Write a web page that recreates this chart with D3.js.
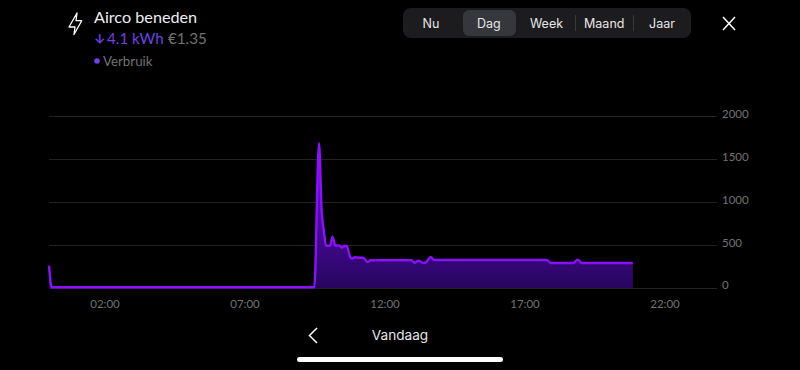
<!DOCTYPE html>
<html><head><meta charset="utf-8">
<script src="https://cdn.jsdelivr.net/npm/d3@7"></script>
<style>
html,body{margin:0;padding:0;background:#000;overflow:hidden}
svg{display:block}
text{font-family:Lato,sans-serif}
.seg{font-family:Inter,Roboto,sans-serif}
</style></head><body>
<svg id="c" width="800" height="370"></svg>
<script>
const hours = [0,0.096,9.475,9.643,9.739,9.82,9.893,10.036,10.13,10.225,10.37,10.464,10.536,10.63,10.75,10.82,10.93,11.11,11.225,11.38,11.49,12.95,13.05,13.2,13.37,13.49,13.63,13.75,17.775,17.93,18.725,18.88,19.025,20.85];
const watts = [260,8,8,1683,887,655,492,492,593,492,495,469,492,488,364,341,357,352,352,302,322,322,294,317,291,306,360,326,326,291,291,329,291,291];
const yTicks = [0,500,1000,1500,2000];
const xTicks = [2,7,12,17,22];
const xTickLabels = ["02:00","07:00","12:00","17:00","22:00"];
const tabs = ["Nu","Dag","Week","Maand","Jaar"];

const svg = d3.select("#c");
const x = d3.scaleLinear().domain([0,24]).range([49,721]);
const y = d3.scaleLinear().domain([0,2000]).range([288,116]);

const defs = svg.append("defs");
const g = defs.append("linearGradient").attr("id","fill").attr("gradientUnits","userSpaceOnUse")
  .attr("x1",0).attr("x2",0).attr("y1",y(1700)).attr("y2",y(0));
g.append("stop").attr("offset",0).attr("stop-color","#7a12e6");
g.append("stop").attr("offset",0.55).attr("stop-color","#4a0a9c");
g.append("stop").attr("offset",1).attr("stop-color","#27055e");

// gridlines
svg.append("g").selectAll("line").data(yTicks).join("line")
  .attr("x1",49).attr("x2",717)
  .attr("y1",d=>y(d)+.5).attr("y2",d=>y(d)+.5)
  .attr("stroke","#222222").attr("stroke-width",1);

// y labels
svg.append("g").selectAll("text").data(yTicks).join("text")
  .attr("x",722).attr("y",d=>y(d)+ (d===0?1:2))
  .attr("fill","#727272").attr("font-size",11.5).text(d=>d);

// x labels
svg.append("g").selectAll("text").data(xTicks).join("text")
  .attr("x",d=>x(d)).attr("y",308).attr("text-anchor","middle")
  .attr("fill","#727272").attr("font-size",11.5).text((d,i)=>xTickLabels[i]);

const pts = hours.map((h,i)=>[h,watts[i]]);
const area = d3.area().x(d=>x(d[0])).y0(y(0)).y1(d=>y(d[1])).curve(d3.curveMonotoneX);
const line = d3.line().x(d=>x(d[0])).y(d=>y(d[1])).curve(d3.curveMonotoneX);
svg.append("path").datum(pts).attr("d",area).attr("fill","url(#fill)");
svg.append("path").datum(pts).attr("d",line).attr("fill","none")
  .attr("stroke","#8a10ff").attr("stroke-width",2.4).attr("stroke-linejoin","round");

// header
svg.append("path").attr("d","M77 13 L69 27 L75 27 L74 34.5 L81.7 20.7 L76 20.7 Z")
  .attr("fill","none").attr("stroke","#fff").attr("stroke-width",1.3).attr("stroke-linejoin","round");
svg.append("text").attr("x",94).attr("y",23).attr("fill","#eeeeee").attr("font-size",16.2).text("Airco beneden");
svg.append("text").attr("class","seg").attr("x",94).attr("y",44).attr("font-size",13).attr("font-weight",600).attr("fill","#7040e8").text("↓");
svg.append("text").attr("x",107).attr("y",44).attr("font-size",15.2).attr("fill","#7040e8").text("4.1 kWh");
svg.append("text").attr("x",168).attr("y",44).attr("font-size",15.2).attr("fill","#727272").text("€1.35");
svg.append("circle").attr("cx",97).attr("cy",61).attr("r",2.8).attr("fill","#7040e8");
svg.append("text").attr("x",103).attr("y",66).attr("fill","#727272").attr("font-size",13.3).text("Verbruik");

// segmented control
svg.append("rect").attr("x",403).attr("y",8).attr("width",288).attr("height",30).attr("rx",8).attr("fill","#1c1c1e");
svg.append("rect").attr("x",463).attr("y",10).attr("width",53).attr("height",26).attr("rx",6).attr("fill","#35373d");
const tabX = d3.scalePoint().domain(tabs).range([431,662]);
svg.append("g").selectAll("text").data(tabs).join("text").attr("class","seg")
  .attr("x",d=>tabX(d)).attr("y",28).attr("text-anchor","middle")
  .attr("fill","#e6e6e6").attr("font-size",12.5).text(d=>d);
svg.append("g").selectAll("line").data([575.5,633.5]).join("line")
  .attr("x1",d=>d).attr("x2",d=>d).attr("y1",15).attr("y2",31).attr("stroke","#3a3a3c");
svg.append("path").attr("d","M723 17 L735 30 M735 17 L723 30").attr("stroke","#fff").attr("stroke-width",1.5).attr("fill","none");

// footer
svg.append("path").attr("d","M317 328 L309.5 335.5 L317 343").attr("stroke","#fff").attr("stroke-width",1.5).attr("fill","none");
svg.append("text").attr("class","seg").attr("x",400).attr("y",340).attr("text-anchor","middle").attr("fill","#e6e6e6").attr("font-size",13.6).text("Vandaag");
svg.append("rect").attr("x",297).attr("y",357).attr("width",206).attr("height",5).attr("rx",2.5).attr("fill","#fff");
</script></body></html>
